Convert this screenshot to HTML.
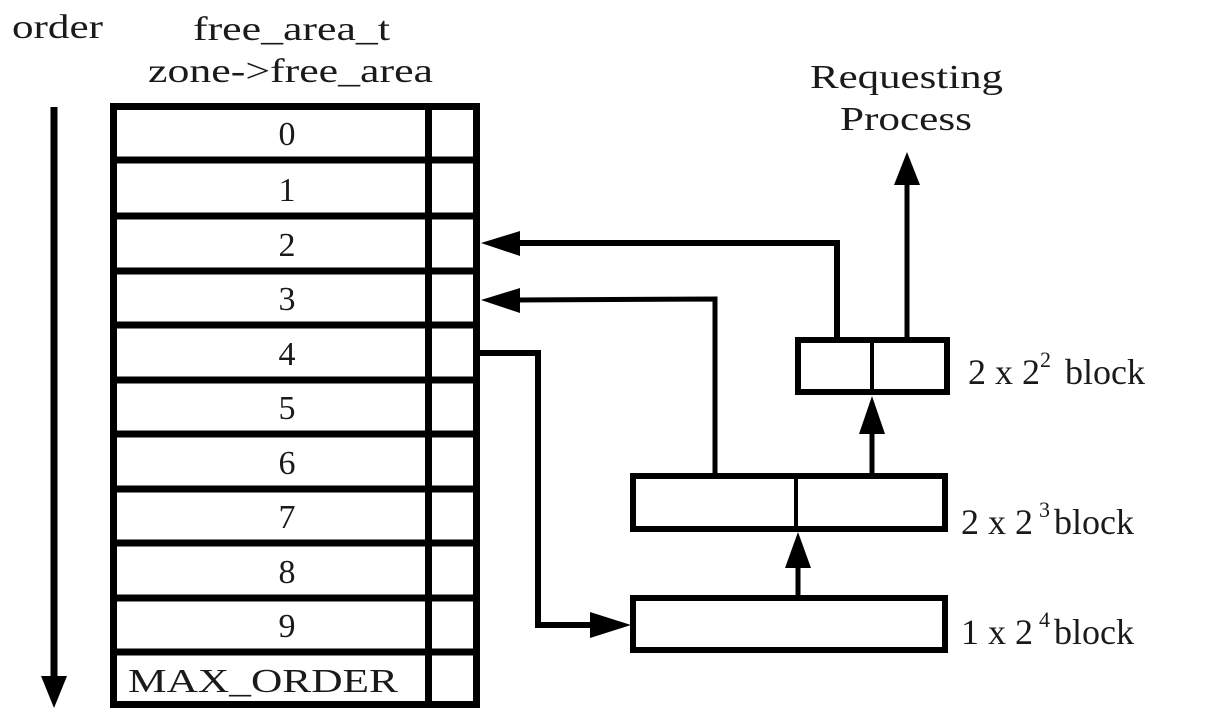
<!DOCTYPE html>
<html><head><meta charset="utf-8"><style>
html,body{margin:0;padding:0;background:#fff;width:1208px;height:722px;overflow:hidden}
svg{display:block}
text{font-family:"Liberation Serif",serif;fill:#1a1a1a}
</style></head><body>
<svg width="1208" height="722" viewBox="0 0 1208 722" xmlns="http://www.w3.org/2000/svg">
<g font-size="34">
<text x="12" y="38" textLength="91" lengthAdjust="spacingAndGlyphs">order</text>
<text x="193" y="40" textLength="197" lengthAdjust="spacingAndGlyphs">free_area_t</text>
<text x="148" y="82" textLength="285" lengthAdjust="spacingAndGlyphs">zone-&gt;free_area</text>
<text x="810" y="88" textLength="193" lengthAdjust="spacingAndGlyphs">Requesting</text>
<text x="840" y="130" textLength="132" lengthAdjust="spacingAndGlyphs">Process</text>
</g>
<!-- order arrow -->
<line x1="54" y1="107" x2="54" y2="680" stroke="#000" stroke-width="7"/>
<polygon points="41,676 67,676 54,708" fill="#000"/>
<!-- table -->
<g stroke="#000" stroke-width="7" fill="none">
<rect x="113.5" y="106.5" width="363" height="598"/>
<line x1="428.5" y1="106" x2="428.5" y2="705"/>
<line x1="113" y1="160" x2="477" y2="160"/>
<line x1="113" y1="216" x2="477" y2="216"/>
<line x1="113" y1="271" x2="477" y2="271"/>
<line x1="113" y1="325" x2="477" y2="325"/>
<line x1="113" y1="380" x2="477" y2="380"/>
<line x1="113" y1="434" x2="477" y2="434"/>
<line x1="113" y1="489" x2="477" y2="489"/>
<line x1="113" y1="543" x2="477" y2="543"/>
<line x1="113" y1="598" x2="477" y2="598"/>
<line x1="113" y1="652" x2="477" y2="652"/>
</g>
<g font-size="34" text-anchor="middle">
<text x="287" y="145">0</text>
<text x="287" y="201">1</text>
<text x="287" y="256">2</text>
<text x="287" y="310">3</text>
<text x="287" y="365">4</text>
<text x="287" y="419">5</text>
<text x="287" y="474">6</text>
<text x="287" y="528">7</text>
<text x="287" y="583">8</text>
<text x="287" y="637">9</text>
</g>
<text x="128" y="692" font-size="34" textLength="270" lengthAdjust="spacingAndGlyphs">MAX_ORDER</text>
<!-- blocks -->
<g stroke="#000" stroke-width="6" fill="none">
<rect x="798" y="340" width="149" height="52"/>
<line x1="872" y1="340" x2="872" y2="392" stroke-width="4"/>
<rect x="633" y="476" width="312" height="53"/>
<line x1="796" y1="476" x2="796" y2="529" stroke-width="4"/>
<rect x="633" y="598" width="312" height="52"/>
</g>
<!-- connectors -->
<g stroke="#000" fill="none">
<polyline points="837,337 837,243 515,243" stroke-width="6"/>
<polyline points="715,473 715,299 515,300" stroke-width="5"/>
<polyline points="480,353 538,353 538,625 595,625" stroke-width="6"/>
<line x1="907" y1="337" x2="907" y2="182" stroke-width="5"/>
<line x1="798" y1="595" x2="798" y2="565" stroke-width="5"/>
<line x1="872" y1="473" x2="872" y2="432" stroke-width="5"/>
</g>
<g fill="#000">
<polygon points="481,243 520,231 520,256"/>
<polygon points="481,300 520,288 520,313"/>
<polygon points="631,625 590,612 590,638"/>
<polygon points="907,152 894,185 920,185"/>
<polygon points="798,532 785,568 811,568"/>
<polygon points="872,396 859,434 885,434"/>
</g>
<g font-size="36">
<text x="968" y="384">2 x 2<tspan dy="-17" font-size="22">2</tspan><tspan dy="17" dx="14">block</tspan></text>
<text x="961" y="534">2 x 2<tspan dx="6" dy="-17" font-size="22">3</tspan><tspan dy="17" dx="4">block</tspan></text>
<text x="961" y="644">1 x 2<tspan dx="6" dy="-17" font-size="22">4</tspan><tspan dy="17" dx="4">block</tspan></text>
</g>
</svg>
</body></html>
